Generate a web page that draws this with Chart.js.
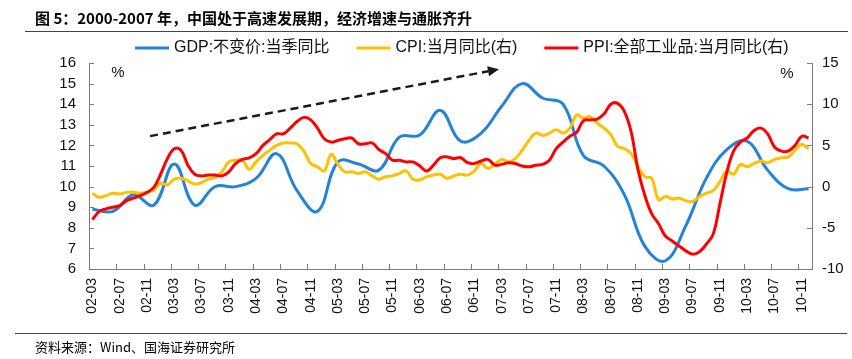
<!DOCTYPE html>
<html>
<head>
<meta charset="utf-8">
<script src="https://cdn.jsdelivr.net/npm/chart.js@4.4.1/dist/chart.umd.min.js"></script>
<style>
  body { margin: 0; background: #fff; }
  canvas { display: block; }
</style>
</head>
<body>
<canvas id="myChart" width="852" height="359"></canvas>
<script>
  // monthly axis 2002-03 .. 2010-12
  const startYear = 2002;
  const startMonth = 3;
  const monthCount = 106;

  // GDP 不变价 当季同比, quarter ends 02-03 .. 10-12 (left axis)
  const gdpQuarterly = [8.9, 8.8, 9.6, 9.1, 11.1, 9.1, 10.0, 10.0, 10.4, 11.6, 9.8, 8.8,
    11.2, 11.1, 10.8, 12.4, 12.5, 13.7, 12.2, 12.6, 13.9, 15.0, 14.3, 14.0,
    11.5, 11.0, 9.6, 7.1, 6.4, 8.1, 10.4, 11.8, 12.2, 10.8, 9.9, 9.9];

  // CPI 当月同比 (right axis)
  const cpi = [-0.8, -1.3, -1.1, -0.8, -0.9, -0.7, -0.7, -0.8, -0.7, -0.4,
    0.4, 0.2, 0.9, 1.0, 0.7, 0.3, 0.5, 0.9, 1.1, 1.8, 3.0, 3.2,
    3.2, 2.1, 3.0, 3.8, 4.4, 5.0, 5.3, 5.3, 5.2, 4.3, 2.8, 2.4,
    1.9, 3.9, 2.7, 1.8, 1.8, 1.6, 1.8, 1.3, 0.9, 1.2, 1.3, 1.6,
    1.9, 0.9, 0.8, 1.2, 1.4, 1.5, 1.0, 1.3, 1.5, 1.4, 1.9, 2.8,
    2.2, 2.7, 3.3, 3.0, 3.4, 4.4, 5.6, 6.5, 6.2, 6.5, 6.9, 6.5,
    7.1, 8.7, 8.3, 8.5, 7.7, 7.1, 6.3, 4.9, 4.6, 4.0, 2.4, 1.2,
    1.0, -1.6, -1.2, -1.5, -1.4, -1.7, -1.8, -1.2, -0.8, -0.5, 0.6, 1.9,
    1.5, 2.7, 2.4, 2.8, 3.1, 2.9, 3.3, 3.5, 3.6, 4.4, 5.1, 4.6];

  // PPI 全部工业品 当月同比 (right axis)
  const ppi = [-4.0, -3.0, -2.7, -2.5, -2.3, -1.7, -1.4, -1.1, -0.7, -0.1,
    1.5, 3.4, 4.6, 4.4, 2.6, 1.5, 1.3, 1.4, 1.4, 1.3, 1.8, 2.8,
    3.3, 3.5, 4.0, 5.0, 5.7, 6.4, 6.4, 7.1, 7.9, 8.4, 8.1, 7.1,
    5.8, 5.4, 5.6, 5.8, 5.9, 5.2, 5.2, 5.3, 4.5, 4.0, 3.2, 3.2,
    3.0, 3.0, 2.5, 1.9, 2.6, 3.5, 3.6, 3.4, 3.5, 2.9, 2.8, 3.1,
    3.3, 2.6, 2.7, 2.9, 2.8, 2.5, 2.4, 2.6, 2.7, 3.2, 4.6, 5.4,
    6.1, 6.6, 8.0, 8.1, 8.2, 8.8, 10.0, 10.1, 9.1, 6.6, 2.0, -1.1,
    -3.3, -4.5, -6.0, -6.6, -7.2, -7.8, -8.2, -7.9, -7.0, -5.8, -2.1, 1.7,
    4.3, 5.4, 5.9, 6.8, 7.1, 6.4, 4.8, 4.3, 4.3, 5.0, 6.1, 5.9];

  // dashed trend arrow, [month index, left-axis value]
  const arrowFrom = [8.45, 12.45];
  const arrowTo = [59.6, 15.7];

  const labels = [];
  for (let i = 0; i < monthCount; i++) {
    const m = startMonth - 1 + i;
    const yy = String(startYear + Math.floor(m / 12)).slice(2);
    const mm = String(m % 12 + 1).padStart(2, '0');
    labels.push(yy + '-' + mm);
  }
  const gdp = labels.map((l, i) => (i % 3 === 0 ? gdpQuarterly[i / 3] : null));

  const axisColor = '#7a7a7a';
  const latin = '"Liberation Sans", "Noto Sans CJK SC", sans-serif';
  const cjk = '"Noto Sans CJK SC", sans-serif';

  const extras = {
    id: 'extras',
    afterDraw(chart) {
      const c = chart.ctx;
      const x = chart.scales.x, yl = chart.scales.y, yr = chart.scales.y1;
      const area = chart.chartArea;
      c.save();

      // tick marks pointing into the plot
      c.strokeStyle = axisColor;
      c.lineWidth = 1;
      c.beginPath();
      const half = (x.getPixelForValue(1) - x.getPixelForValue(0)) / 2;
      for (let i = 4; i < monthCount; i += 4) {
        const px = Math.round(x.getPixelForValue(i) - half) + 0.5;
        c.moveTo(px, area.bottom);
        c.lineTo(px, area.bottom - 5);
      }
      yl.ticks.forEach(t => {
        const py = Math.round(yl.getPixelForValue(t.value)) + 0.5;
        c.moveTo(area.left, py);
        c.lineTo(area.left + 5, py);
      });
      yr.ticks.forEach(t => {
        const py = Math.round(yr.getPixelForValue(t.value)) + 0.5;
        c.moveTo(area.right, py);
        c.lineTo(area.right - 5, py);
      });
      c.stroke();

      // % units
      c.fillStyle = '#111';
      c.font = '15px ' + latin;
      c.textAlign = 'center';
      c.textBaseline = 'middle';
      c.fillText('%', 118, 73);
      c.fillText('%', 787, 74);

      // dashed arrow
      const x0 = x.getPixelForValue(arrowFrom[0]), y0 = yl.getPixelForValue(arrowFrom[1]);
      const x1 = x.getPixelForValue(arrowTo[0]), y1 = yl.getPixelForValue(arrowTo[1]);
      const ang = Math.atan2(y1 - y0, x1 - x0);
      const headLen = 11, headW = 5;
      const bx = x1 - headLen * Math.cos(ang), by = y1 - headLen * Math.sin(ang);
      c.strokeStyle = '#1a1a1a';
      c.lineWidth = 2.5;
      c.setLineDash([8, 5]);
      c.beginPath();
      c.moveTo(x0, y0);
      c.lineTo(bx, by);
      c.stroke();
      c.setLineDash([]);
      c.fillStyle = '#1a1a1a';
      c.beginPath();
      c.moveTo(x1, y1);
      c.lineTo(bx + headW * Math.sin(ang), by - headW * Math.cos(ang));
      c.lineTo(bx - headW * Math.sin(ang), by + headW * Math.cos(ang));
      c.closePath();
      c.fill();

      // legend
      let lx = 135;
      c.font = '16px ' + latin;
      c.textAlign = 'left';
      chart.data.datasets.forEach(ds => {
        c.strokeStyle = ds.borderColor;
        c.lineWidth = 3;
        c.beginPath();
        c.moveTo(lx, 48);
        c.lineTo(lx + 34, 48);
        c.stroke();
        c.fillStyle = '#111';
        c.fillText(ds.label, lx + 39, 48);
        lx += 39 + c.measureText(ds.label).width + 27;
      });

      // title, rules and source
      c.fillStyle = '#000';
      c.font = 'bold 15px ' + cjk;
      c.fillText('图 5：2000-2007 年，中国处于高速发展期，经济增速与通胀齐升', 35, 18.5, 462);
      c.strokeStyle = '#444';
      c.lineWidth = 1;
      c.beginPath();
      c.moveTo(25, 31.5);
      c.lineTo(848, 31.5);
      c.moveTo(15, 333.5);
      c.lineTo(847, 333.5);
      c.stroke();
      c.font = '13px ' + cjk;
      c.fillText('资料来源：Wind、国海证券研究所', 35, 347, 200);
      c.restore();
    }
  };

  new Chart(document.getElementById('myChart'), {
    type: 'line',
    data: {
      labels: labels,
      datasets: [
        {
          label: 'GDP:不变价:当季同比',
          data: gdp,
          borderColor: '#2383d9',
          yAxisID: 'y',
          spanGaps: true,
          order: 2
        },
        {
          label: 'CPI:当月同比(右)',
          data: cpi,
          borderColor: '#ffc000',
          yAxisID: 'y1',
          order: 1
        },
        {
          label: 'PPI:全部工业品:当月同比(右)',
          data: ppi,
          borderColor: '#ff0000',
          yAxisID: 'y1',
          order: 0
        }
      ]
    },
    options: {
      responsive: false,
      animation: false,
      devicePixelRatio: 1,
      layout: { padding: { top: 63, left: 0, right: 0, bottom: 0 } },
      elements: {
        line: { borderWidth: 3, tension: 0.4, fill: false },
        point: { radius: 0 }
      },
      plugins: {
        legend: { display: false },
        title: { display: false },
        tooltip: { enabled: false }
      },
      scales: {
        x: {
          type: 'category',
          offset: true,
          grid: { display: false, drawTicks: false },
          border: { display: true, color: axisColor, width: 1 },
          ticks: {
            autoSkip: false,
            minRotation: 90,
            maxRotation: 90,
            padding: 9,
            color: '#111',
            font: { family: '"Liberation Sans"', size: 14 },
            callback: function (v, i) { return i % 4 === 0 ? labels[i] : null; }
          },
          afterFit: s => { s.height = 90; }
        },
        y: {
          position: 'left',
          min: 6,
          max: 16,
          grid: { display: false, drawTicks: false },
          border: { display: true, color: axisColor, width: 1 },
          ticks: {
            stepSize: 1,
            autoSkip: false,
            padding: 13,
            color: '#111',
            font: { family: '"Liberation Sans"', size: 15 }
          },
          afterFit: s => { s.width = 89; }
        },
        y1: {
          position: 'right',
          min: -10,
          max: 15,
          grid: { display: false, drawTicks: false },
          border: { display: true, color: axisColor, width: 1 },
          ticks: {
            stepSize: 5,
            autoSkip: false,
            padding: 10,
            color: '#111',
            font: { family: '"Liberation Sans"', size: 15 }
          },
          afterFit: s => { s.width = 40; }
        }
      }
    },
    plugins: [extras]
  });
</script>
</body>
</html>
